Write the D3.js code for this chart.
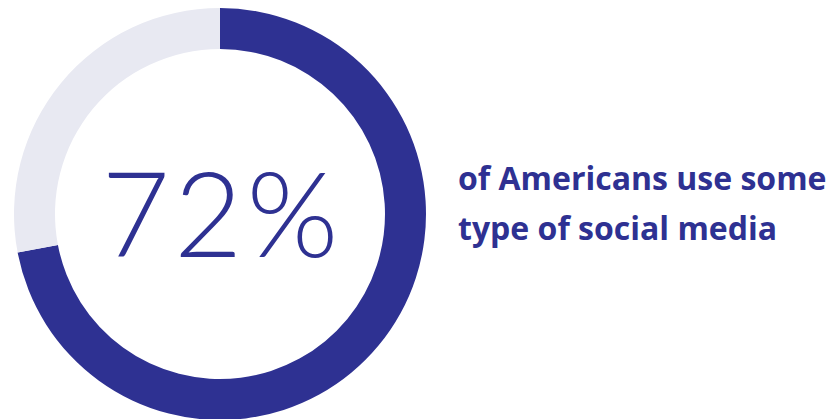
<!DOCTYPE html>
<html>
<head>
<meta charset="utf-8">
<script src="https://cdn.jsdelivr.net/npm/d3@7"></script>
<style>
  body { margin: 0; background: #fff; }
</style>
</head>
<body>
<script>
const width = 830;
const height = 419;

// dati
const shareLabels = ["Use social media", "Do not"];
const shareValues = [72, 28];
const bigLabel = "72%";
const captionLines = ["of Americans use some", "type of social media"];

const colors = ["#2e3192", "#e8e9f2"];

const cx = 220, cy = 214;
const outerR = 206, innerR = 165;

const svg = d3.select("body")
	.append("svg")
	.attr("width", width)
	.attr("height", height);

const pie = d3.pie().sort(null).value(d => d);
const arc = d3.arc().innerRadius(innerR).outerRadius(outerR);

const g = svg.append("g").attr("transform", `translate(${cx},${cy})`);

g.selectAll("path")
	.data(pie(shareValues))
	.join("path")
	.attr("d", arc)
	.attr("fill", (d, i) => colors[i]);

// numero al centro
g.append("text")
	.attr("x", 2)
	.attr("y", 43)
	.attr("text-anchor", "middle")
	.attr("font-family", "Lato, 'Open Sans', sans-serif")
	.attr("font-weight", 300)
	.attr("font-size", 118)
	.attr("letter-spacing", 4)
	.attr("fill", colors[0])
	.text(bigLabel);

// testo a destra
svg.selectAll("text.caption")
	.data(captionLines)
	.join("text")
	.attr("class", "caption")
	.attr("x", 458)
	.attr("y", (d, i) => 190 + i * 50)
	.attr("font-family", "'Open Sans', 'Noto Sans', sans-serif")
	.attr("font-weight", 700)
	.attr("font-size", 32)
	.attr("fill", colors[0])
	.text(d => d);
</script>
</body>
</html>
